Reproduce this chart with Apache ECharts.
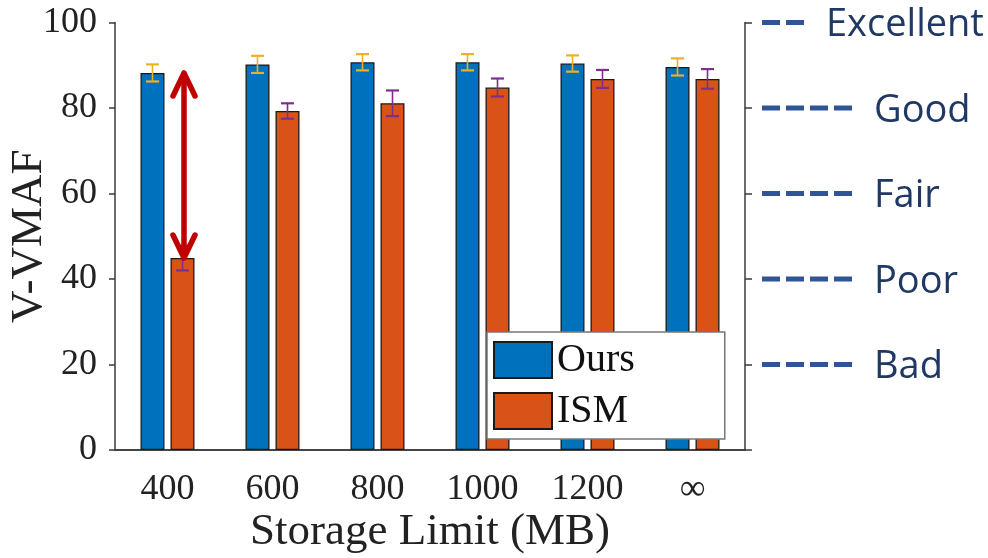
<!DOCTYPE html>
<html>
<head>
<meta charset="utf-8">
<script src="https://cdn.jsdelivr.net/npm/echarts@6/dist/echarts.min.js"></script>
<style>
  html, body { margin: 0; padding: 0; background: #fff; }
  #chart { width: 988px; height: 558px; }
</style>
</head>
<body>
<div id="chart"></div>
<script>
// Storage limits (MB) and mean V-VMAF with error half-widths
const categories = ['400', '600', '800', '1000', '1200', '∞'];
const oursMean = [88.2, 90.2, 90.7, 90.7, 90.4, 89.6];
const oursErr  = [2.0, 2.0, 1.9, 1.9, 1.9, 2.0];
const ismMean  = [44.9, 79.3, 81.1, 84.8, 86.8, 86.8];
const ismErr   = [2.9, 1.8, 3.0, 2.1, 2.1, 2.3];
const seriesNames = ['Ours', 'ISM'];

// Quality bands shown on the right axis (at 20, 40, 60, 80, 100)
const ratingLabels = ['Bad', 'Poor', 'Fair', 'Good', 'Excellent'];
const ratingDashes = [4, 4, 4, 4, 2];

const BAR_WIDTH = 24;
const BAR_GAP_PX = 6;
const BAR_OFFSET = (BAR_WIDTH + BAR_GAP_PX) / 2;
const CAP = 13;

const SERIF = 'Liberation Serif';
const AXIS_COLOR = '#3a3a3a';
const TEXT_COLOR = '#222';

function errorBarRenderer(side, color) {
  return function (params, api) {
    const cat = api.value(0);
    const lo = api.coord([cat, api.value(1)]);
    const hi = api.coord([cat, api.value(2)]);
    const x = lo[0] + side * BAR_OFFSET;
    const h = CAP / 2;
    return {
      type: 'group',
      children: [
        { type: 'line', shape: { x1: x, y1: hi[1], x2: x, y2: lo[1] }, style: { stroke: color, lineWidth: 1.6 } },
        { type: 'line', shape: { x1: x - h, y1: hi[1], x2: x + h, y2: hi[1] }, style: { stroke: color, lineWidth: 2.2 } },
        { type: 'line', shape: { x1: x - h, y1: lo[1], x2: x + h, y2: lo[1] }, style: { stroke: color, lineWidth: 2.2 } }
      ]
    };
  };
}

// Double-headed arrow between the ISM and Ours values at the first limit
function gapArrowRenderer(params, api) {
  const cat = api.value(0);
  const bottom = api.coord([cat, api.value(1)]);
  const top = api.coord([cat, api.value(2)]);
  const x = bottom[0] + BAR_OFFSET + 1.5;
  const armX = 11, armY = 23;
  const style = { stroke: '#C00000', lineWidth: 5.5, lineCap: 'round', lineJoin: 'round', fill: null };
  return {
    type: 'group',
    children: [
      { type: 'line', shape: { x1: x, y1: top[1] + 2, x2: x, y2: bottom[1] - 2 }, style: style },
      { type: 'polyline', shape: { points: [[x - armX, top[1] + armY], [x, top[1]], [x + armX, top[1] + armY]] }, style: style },
      { type: 'polyline', shape: { points: [[x - armX, bottom[1] - armY], [x, bottom[1]], [x + armX, bottom[1] - armY]] }, style: style }
    ]
  };
}

function ratingFormatter(value) {
  const idx = Math.round(value / 20) - 1;
  if (idx < 0 || idx >= ratingLabels.length) return '';
  const parts = [];
  for (let i = 0; i < ratingDashes[idx]; i++) {
    if (i > 0) parts.push('{g|}');
    parts.push('{d|}');
  }
  return parts.join('') + '{s|}{t|' + ratingLabels[idx] + '}';
}

const axisLineStyle = { color: AXIS_COLOR, width: 1.5 };
const axisTickStyle = { color: AXIS_COLOR, width: 1.5 };

const option = {
  animation: false,
  backgroundColor: '#fff',
  grid: { left: 115, right: 243, top: 22.5, bottom: 108, containLabel: false, outerBoundsMode: 'none' },
  legend: {
    data: seriesNames,
    orient: 'vertical',
    left: 487,
    top: 332,
    padding: [8, 90, 8, 6],
    itemWidth: 58,
    itemHeight: 36,
    itemGap: 11,
    icon: 'rect',
    backgroundColor: '#fff',
    borderColor: '#777',
    borderWidth: 1.5,
    textStyle: { fontFamily: SERIF, fontSize: 40, color: '#111' }
  },
  xAxis: [
    {
      type: 'category',
      data: categories,
      position: 'bottom',
      axisLine: { lineStyle: axisLineStyle },
      axisTick: { alignWithLabel: true, length: 7, lineStyle: axisTickStyle },
      axisLabel: { fontFamily: SERIF, fontSize: 36, color: TEXT_COLOR, margin: 22 },
      name: 'Storage Limit (MB)',
      nameLocation: 'middle',
      nameGap: 60,
      nameMoveOverlap: false,
      nameTextStyle: { fontFamily: SERIF, fontSize: 45, color: TEXT_COLOR }
    },
    {
      type: 'category',
      data: categories,
      position: 'top',
      axisLine: { lineStyle: axisLineStyle },
      axisTick: { alignWithLabel: true, length: 7, lineStyle: axisTickStyle },
      axisLabel: { show: false }
    }
  ],
  yAxis: [
    {
      type: 'value',
      min: 0,
      max: 100,
      interval: 20,
      position: 'left',
      axisLine: { show: true, lineStyle: axisLineStyle },
      axisTick: { show: true, length: 6, lineStyle: axisTickStyle },
      splitLine: { show: false },
      axisLabel: { fontFamily: SERIF, fontSize: 36, color: TEXT_COLOR, margin: 18 },
      name: 'V-VMAF',
      nameLocation: 'middle',
      nameRotate: 90,
      nameGap: 63,
      nameMoveOverlap: false,
      nameTextStyle: { fontFamily: SERIF, fontSize: 45, color: TEXT_COLOR }
    },
    {
      type: 'value',
      min: 0,
      max: 100,
      interval: 20,
      position: 'right',
      axisLine: { show: true, lineStyle: axisLineStyle },
      axisTick: { show: true, length: 7, lineStyle: axisTickStyle },
      splitLine: { show: false },
      axisLabel: {
        margin: 17,
        formatter: ratingFormatter,
        rich: {
          d: { width: 18, height: 5, backgroundColor: '#2F5597' },
          g: { width: 6, height: 5 },
          s: { width: 22, height: 5 },
          t: { fontFamily: 'Open Sans', fontSize: 38, color: '#1F3864', padding: [6, 0, 0, 0] }
        }
      }
    }
  ],
  series: [
    {
      name: seriesNames[0],
      type: 'bar',
      data: oursMean,
      barWidth: BAR_WIDTH,
      barGap: (BAR_GAP_PX / BAR_WIDTH * 100) + '%',
      itemStyle: { color: '#0072BD', borderColor: '#1a1a1a', borderWidth: 1.3 }
    },
    {
      name: seriesNames[1],
      type: 'bar',
      data: ismMean,
      barWidth: BAR_WIDTH,
      itemStyle: { color: '#D95319', borderColor: '#1a1a1a', borderWidth: 1.3 }
    },
    {
      name: 'Ours error',
      type: 'custom',
      renderItem: errorBarRenderer(-1, '#EDB120'),
      data: oursMean.map((m, i) => [i, m - oursErr[i], m + oursErr[i]]),
      encode: { x: 0, y: [1, 2] },
      z: 3
    },
    {
      name: 'ISM error',
      type: 'custom',
      renderItem: errorBarRenderer(1, '#7E2F8E'),
      data: ismMean.map((m, i) => [i, m - ismErr[i], m + ismErr[i]]),
      encode: { x: 0, y: [1, 2] },
      z: 3
    },
    {
      name: 'Gap',
      type: 'custom',
      renderItem: gapArrowRenderer,
      data: [[0, ismMean[0], oursMean[0]]],
      encode: { x: 0, y: [1, 2] },
      z: 4
    }
  ]
};

const chart = echarts.init(document.getElementById('chart'), null, { renderer: 'canvas' });
chart.setOption(option);
</script>
</body>
</html>
